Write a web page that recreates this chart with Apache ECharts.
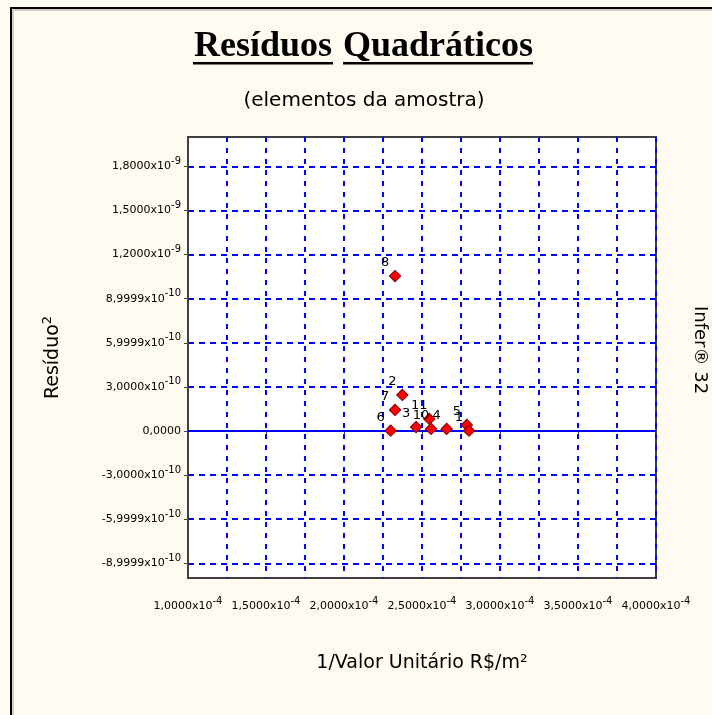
<!DOCTYPE html>
<html>
<head>
<meta charset="utf-8">
<script src="https://cdn.jsdelivr.net/npm/echarts@6/dist/echarts.min.js"></script>
<style>
  html, body { margin: 0; padding: 0; background: #FFFBF0; }
  #chart { width: 712px; height: 715px; }
</style>
</head>
<body>
<div id="chart"></div>
<script>
// elementos da amostra
var pointIds = ['8', '2', '7', '6', '3', '11', '10', '4', '5', '1'];
var xValues = [2.327e-4, 2.374e-4, 2.327e-4, 2.299e-4, 2.462e-4, 2.547e-4, 2.558e-4, 2.658e-4, 2.787e-4, 2.801e-4];
var yValues = [1.054e-9, 2.45e-10, 1.43e-10, 2e-12, 2.7e-11, 8.2e-11, 1.4e-11, 1.4e-11, 4.1e-11, 2e-12];

// tick labels as printed on the chart
var xTickValues = [1.0e-4, 1.5e-4, 2.0e-4, 2.5e-4, 3.0e-4, 3.5e-4, 4.0e-4];
var xTickMantissa = ['1,0000', '1,5000', '2,0000', '2,5000', '3,0000', '3,5000', '4,0000'];
var xTickExp = ['-4', '-4', '-4', '-4', '-4', '-4', '-4'];

var yTickValues = [-9e-10, -6e-10, -3e-10, 0, 3e-10, 6e-10, 9e-10, 1.2e-9, 1.5e-9, 1.8e-9];
var yTickMantissa = ['-8,9999', '-5,9999', '-3,0000', '0,0000', '3,0000', '5,9999', '8,9999', '1,2000', '1,5000', '1,8000'];
var yTickExp = ['-10', '-10', '-10', '', '-10', '-10', '-10', '-9', '-9', '-9'];

var FONT = 'DejaVu Sans';
var BLUE = '#0000FF';

function tickLabel(v, values, mant, exp, tol) {
    for (var i = 0; i < values.length; i++) {
        if (Math.abs(v - values[i]) < tol) {
            if (!exp[i]) return '{m|' + mant[i] + '}';
            return '{m|' + mant[i] + 'x10}{s|' + exp[i] + '}';
        }
    }
    return '';
}

var tickRich = {
    m: { fontFamily: FONT, fontSize: 11, color: '#000' },
    s: { fontFamily: FONT, fontSize: 10, color: '#000', padding: [0, 0, 10, 0] }
};

var points = xValues.map(function (x, i) {
    return { name: pointIds[i], value: [x, yValues[i]] };
});

var chart = echarts.init(document.getElementById('chart'));

chart.setOption({
    backgroundColor: '#FFFBF0',
    animation: false,
    grid: {
        left: 188, top: 137, width: 468, height: 441,
        show: true, backgroundColor: '#FFFFFF',
        borderColor: '#404040', borderWidth: 2
    },
    xAxis: {
        type: 'value',
        min: 1e-4, max: 4e-4, interval: 0.5e-4,
        name: '1/Valor Unitário R$/m²',
        nameLocation: 'middle', nameGap: 76,
        nameTextStyle: { fontFamily: FONT, fontSize: 19, color: '#000' },
        axisLine: { show: true, lineStyle: { color: '#404040', width: 2 } },
        axisTick: { show: true, length: 4, lineStyle: { color: '#404040' } },
        axisLabel: {
            margin: 18,
            formatter: function (v) { return tickLabel(v, xTickValues, xTickMantissa, xTickExp, 1e-9); },
            rich: tickRich
        },
        splitLine: { show: true, lineStyle: { color: BLUE, width: 2, type: [5, 6] } },
        minorTick: { show: false, splitNumber: 2 },
        minorSplitLine: { show: true, lineStyle: { color: BLUE, width: 2, type: [5, 6] } }
    },
    yAxis: {
        type: 'value',
        min: -1e-9, max: 2e-9,
        name: '{a|Resíduo}{b|2}',
        nameLocation: 'middle', nameGap: 122, nameRotate: 90,
        nameTextStyle: {
            rich: {
                a: { fontFamily: FONT, fontSize: 19, color: '#000' },
                b: { fontFamily: FONT, fontSize: 13, color: '#000', padding: [0, 0, 12, 0] }
            }
        },
        axisLine: { show: true, lineStyle: { color: '#404040', width: 2 } },
        axisTick: { show: true, length: 4, customValues: yTickValues, lineStyle: { color: '#404040' } },
        axisLabel: {
            margin: 7,
            customValues: yTickValues,
            formatter: function (v) { return tickLabel(v, yTickValues, yTickMantissa, yTickExp, 1e-13); },
            rich: tickRich
        },
        splitLine: { show: true, lineStyle: { color: BLUE, width: 2, type: [6, 5] } }
    },
    series: [
        {
            type: 'scatter',
            data: [],
            z: 2,
            markLine: {
                silent: true,
                symbol: 'none',
                label: { show: false },
                lineStyle: { color: BLUE, width: 2, type: 'solid' },
                data: [{ yAxis: 0 }]
            }
        },
        {
            type: 'scatter',
            z: 5,
            data: points,
            symbol: 'rect',
            symbolSize: 8,
            symbolRotate: 45,
            itemStyle: { color: '#FF0000', borderColor: '#800000', borderWidth: 1, opacity: 1 },
            label: {
                show: true,
                position: 'inside',
                offset: [-10, -13],
                formatter: '{b}',
                fontFamily: FONT, fontSize: 13, color: '#000'
            }
        }
    ],
    graphic: [
        {
            type: 'rect', silent: true,
            shape: { x: 11, y: 8, width: 760, height: 760 },
            style: { fill: null, stroke: '#000', lineWidth: 2 }
        },
        {
            type: 'rect', silent: true,
            shape: { x: 13, y: 10, width: 760, height: 760 },
            style: { fill: null, stroke: '#A0A0A0', lineWidth: 1 }
        },
        {
            type: 'text', x: 263, y: 47, silent: true,
            style: {
                text: 'Resíduos', font: 'bold 36px "Liberation Serif"',
                fill: '#000', align: 'center', verticalAlign: 'middle'
            }
        },
        {
            type: 'text', x: 438, y: 47, silent: true,
            style: {
                text: 'Quadráticos', font: 'bold 36px "Liberation Serif"',
                fill: '#000', align: 'center', verticalAlign: 'middle'
            }
        },
        { type: 'rect', silent: true, shape: { x: 193, y: 62, width: 140, height: 2.5 }, style: { fill: '#000' } },
        { type: 'rect', silent: true, shape: { x: 343, y: 62, width: 190, height: 2.5 }, style: { fill: '#000' } },
        {
            type: 'text', x: 364, y: 101, silent: true,
            style: {
                text: '(elementos da amostra)', font: '20px "DejaVu Sans"',
                fill: '#000', align: 'center', verticalAlign: 'middle'
            }
        },
        {
            type: 'text', x: 700, y: 350, rotation: -Math.PI / 2, silent: true,
            style: {
                text: 'Infer® 32', font: '18px "DejaVu Sans"',
                fill: '#000', align: 'center', verticalAlign: 'middle'
            }
        }
    ]
});
</script>
</body>
</html>
